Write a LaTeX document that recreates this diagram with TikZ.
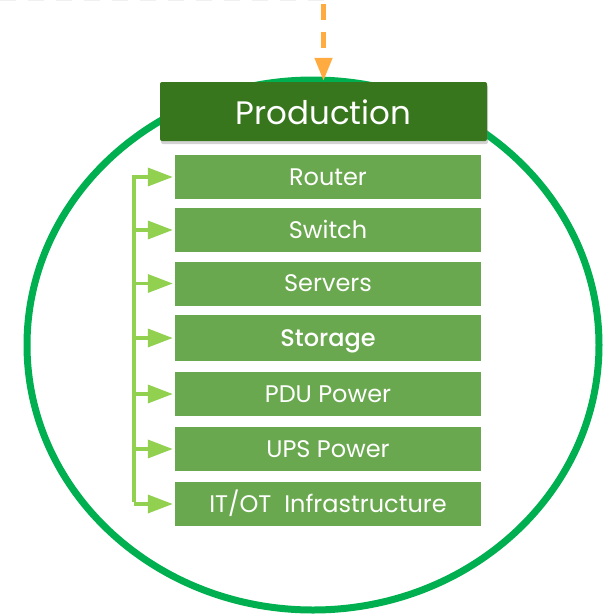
\documentclass[tikz,border=0pt]{standalone}
\usepackage{fontspec}
\setmainfont{Poppins}
\newfontfamily\popmed{Poppins Medium}
\usetikzlibrary{arrows.meta,shadows}
\definecolor{itemgreen}{HTML}{6AA84F}
\definecolor{prodgreen}{HTML}{38761D}
\definecolor{ringgreen}{HTML}{00B050}
\definecolor{arrowgreen}{HTML}{92D050}
\definecolor{orangeline}{HTML}{FFAB40}
\tikzset{
  itembox/.style={fill=itemgreen, draw=none, minimum width=306pt, minimum height=44pt,
    inner sep=0pt, text=white, text height=17pt, text depth=1pt, font=\fontsize{24}{28}\selectfont},
  prodbox/.style={fill=prodgreen, draw=none, rounded corners=2pt, minimum width=327pt,
    minimum height=59pt, inner sep=0pt, text=white, text height=26pt, text depth=1pt,
    font=\fontsize{32.5}{38}\selectfont,
    drop shadow={opacity=0.35, shadow xshift=1pt, shadow yshift=-3pt}},
  feed/.style={draw=arrowgreen, line width=3.5pt, -{Triangle[length=25pt,width=18pt]}, shorten >=2pt},
}
\begin{document}
\begin{tikzpicture}[x=1pt,y=-1pt]
\useasboundingbox (0,0) rectangle (604,614);
% faint cropped dashes at top
\draw[black!6, line width=4pt, dash pattern=on 16pt off 12pt] (0,-1) -- (330,-1);
% ring
\draw[ringgreen, line width=7pt] (313,345) ellipse [x radius=286, y radius=265];
% production
\node[prodbox] (prod) at (323.5,111.5) {Production};
% items
\node[itembox] (router) at (328,177) {Router};
\node[itembox] (switch) at (328,230) {Switch};
\node[itembox] (servers) at (328,283.5) {Servers};
\node[itembox, minimum height=46pt, font=\fontsize{24}{28}\popmed] (storage) at (328,338) {Storage};
\node[itembox] (pdu) at (328,394) {PDU Power};
\node[itembox] (ups) at (328,449) {UPS Power};
\node[itembox] (itot) at (328,504) {IT/OT\ \ Infrastructure};
% bracket
\coordinate (btop) at (134,175);
\coordinate (bbot) at (134,502);
\draw[arrowgreen, line width=3.5pt] (btop) -- (bbot);
\foreach \n in {router,switch,servers,storage,pdu,ups,itot}{
  \draw[feed] (btop |- \n.west) -- (\n.west);
}
% orange incoming arrow
\coordinate (src) at (323.5,4);
\draw[orangeline, line width=4.5pt, dash pattern=on 16pt off 12pt,
  -{Triangle[length=23pt,width=17pt]}, shorten >=1pt] (src) -- (prod.north);
\end{tikzpicture}
\end{document}
